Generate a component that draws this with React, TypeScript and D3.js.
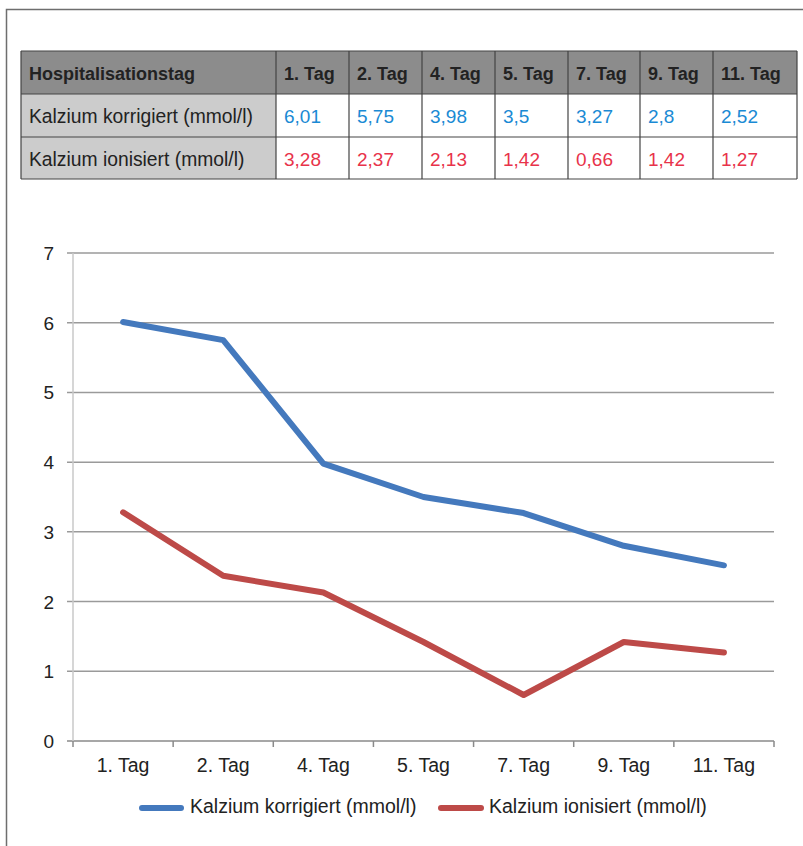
import React from "react";
import * as d3 from "d3";

const days = ["1. Tag", "2. Tag", "4. Tag", "5. Tag", "7. Tag", "9. Tag", "11. Tag"];
const korrigiert = [6.01, 5.75, 3.98, 3.5, 3.27, 2.8, 2.52];
const ionisiert = [3.28, 2.37, 2.13, 1.42, 0.66, 1.42, 1.27];
const korrigiertLabels = ["6,01", "5,75", "3,98", "3,5", "3,27", "2,8", "2,52"];
const ionisiertLabels = ["3,28", "2,37", "2,13", "1,42", "0,66", "1,42", "1,27"];
const headerTitle = "Hospitalisationstag";
const seriesNames = ["Kalzium korrigiert (mmol/l)", "Kalzium ionisiert (mmol/l)"];
const yTicks = [0, 1, 2, 3, 4, 5, 6, 7];

const FONT = "'Liberation Sans', Arial, sans-serif";
const BLUE_TXT = "#1a8ad4";
const RED_TXT = "#e8334a";
const BLUE_LINE = "#4479bd";
const RED_LINE = "#bd4a48";

export default function App() {
  const colEdges = [21, 276, 349, 422, 495, 568, 640, 713, 797];
  const rowEdges = [51, 94, 137, 179];

  const x = d3.scaleBand<string>().domain(days).range([73, 774]);
  const y = d3.scaleLinear().domain([0, 7]).range([741, 253]);
  const line = d3
    .line<number>()
    .x((_, i) => (x(days[i]) as number) + x.bandwidth() / 2)
    .y((d) => y(d));

  const rows = [
    { name: seriesNames[0], labels: korrigiertLabels, color: BLUE_TXT },
    { name: seriesNames[1], labels: ionisiertLabels, color: RED_TXT },
  ];

  const tickXs = [...days.map((d) => x(d) as number), 774];

  return (
    <svg
      width={803}
      height={846}
      style={{ position: "absolute", left: 0, top: 0, background: "#fff" }}
      fontFamily={FONT}
    >
      <path d="M6.5,846 L6.5,9.5 L803,9.5" fill="none" stroke="#6e6e6e" strokeWidth={1.5} />

      <rect x={colEdges[0]} y={rowEdges[0]} width={colEdges[8] - colEdges[0]} height={rowEdges[1] - rowEdges[0]} fill="#8c8c8c" />
      <rect x={colEdges[0]} y={rowEdges[1]} width={colEdges[1] - colEdges[0]} height={rowEdges[3] - rowEdges[1]} fill="#cccccc" />
      {rowEdges.map((ry, i) => (
        <line key={"r" + i} x1={colEdges[0]} x2={colEdges[8]} y1={ry} y2={ry} stroke="#444" strokeWidth={1.2} />
      ))}
      {colEdges.map((cx, i) => (
        <line key={"c" + i} x1={cx} x2={cx} y1={rowEdges[0]} y2={rowEdges[3]} stroke="#444" strokeWidth={1.2} />
      ))}
      <text x={29} y={80} fontSize={18} fontWeight="bold" fill="#222">{headerTitle}</text>
      {days.map((d, i) => (
        <text key={"h" + i} x={colEdges[i + 1] + 8} y={80} fontSize={18} fontWeight="bold" fill="#222">{d}</text>
      ))}
      {rows.map((r, ri) => (
        <g key={"row" + ri}>
          <text x={29} y={rowEdges[ri + 1] + 29} fontSize={19.3} fill="#222">{r.name}</text>
          {r.labels.map((l, i) => (
            <text key={i} x={colEdges[i + 1] + 8} y={rowEdges[ri + 1] + 29} fontSize={19} fill={r.color}>{l}</text>
          ))}
        </g>
      ))}

      {yTicks.map((t) => (
        <g key={"g" + t}>
          <line x1={67} x2={774} y1={y(t)} y2={y(t)} stroke={t === 0 ? "#8a8a8a" : "#9a9a9a"} strokeWidth={1.5} />
          <text x={54} y={y(t) + 7} fontSize={19} textAnchor="end" fill="#222">{t}</text>
        </g>
      ))}
      <line x1={73} x2={73} y1={253} y2={741} stroke="#c8c8c8" strokeWidth={1.5} />
      {tickXs.map((tx, i) => (
        <line key={"t" + i} x1={tx} x2={tx} y1={741} y2={747} stroke="#8a8a8a" strokeWidth={1.5} />
      ))}
      {days.map((d) => (
        <text key={"xl" + d} x={(x(d) as number) + x.bandwidth() / 2} y={772} fontSize={19.5} textAnchor="middle" fill="#222">{d}</text>
      ))}

      <path d={line(korrigiert) as string} fill="none" stroke={BLUE_LINE} strokeWidth={6} strokeLinejoin="round" strokeLinecap="round" />
      <path d={line(ionisiert) as string} fill="none" stroke={RED_LINE} strokeWidth={6} strokeLinejoin="round" strokeLinecap="round" />

      <line x1={142} x2={181} y1={808} y2={808} stroke={BLUE_LINE} strokeWidth={6} strokeLinecap="round" />
      <text x={190} y={813} fontSize={19.5} fill="#222">{seriesNames[0]}</text>
      <line x1={441} x2={481} y1={808} y2={808} stroke={RED_LINE} strokeWidth={6} strokeLinecap="round" />
      <text x={489} y={813} fontSize={19.5} fill="#222">{seriesNames[1]}</text>
    </svg>
  );
}
